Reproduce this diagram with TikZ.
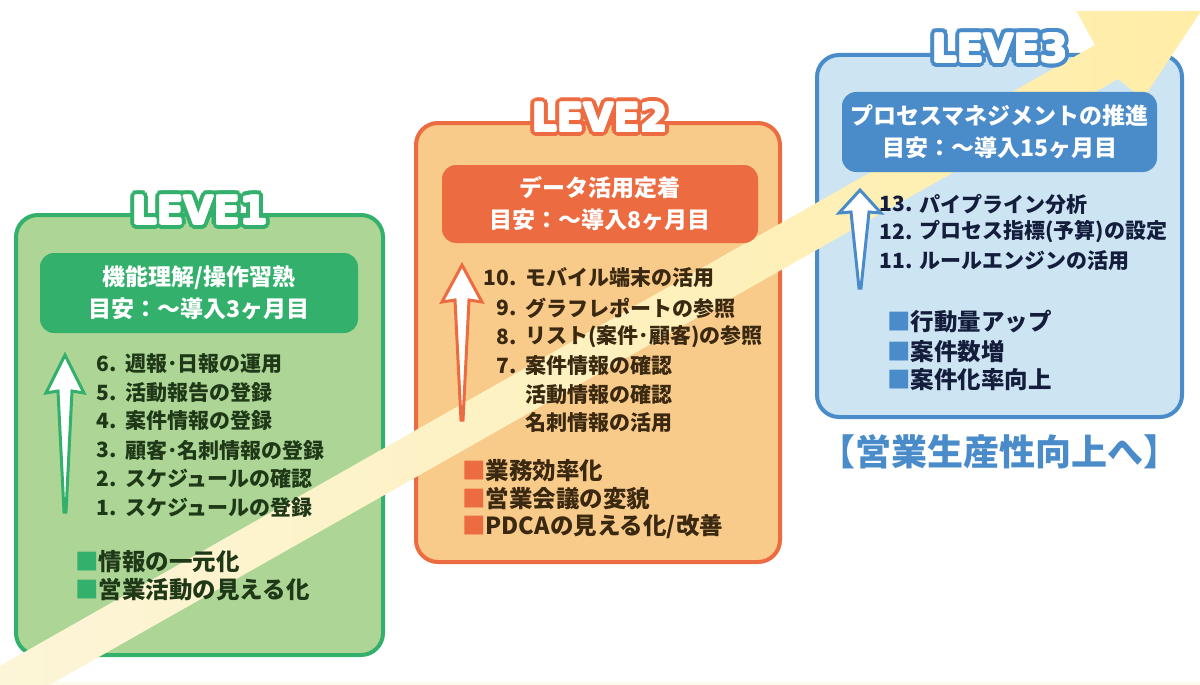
\documentclass[tikz,border=0pt]{standalone}
\usepackage{fontspec}
\usetikzlibrary{calc}
\newfontfamily\jp{Noto Sans CJK JP}
\newfontfamily\lv{DejaVu Sans}
\definecolor{gB}{HTML}{33B06C}
\definecolor{gF}{HTML}{ADD596}
\definecolor{gT}{HTML}{1F3818}
\definecolor{oB}{HTML}{EC6B40}
\definecolor{oF}{HTML}{F8CB8B}
\definecolor{oT}{HTML}{3A2810}
\definecolor{bB}{HTML}{4A8BCA}
\definecolor{bF}{HTML}{CDE4F3}
\definecolor{bT}{HTML}{141E3C}
\definecolor{yL}{HTML}{FCF5D8}
\definecolor{yR}{HTML}{FFEDA6}
\tikzset{
  panel/.style={draw, line width=4pt, rounded corners=22pt, inner sep=0pt},
  head/.style={rounded corners=14pt, text=white, font=\jp\bfseries\fontsize{23}{32}\selectfont, align=center, inner sep=0pt},
  item/.style={anchor=west, inner sep=0pt, font=\jp\bfseries\fontsize{21}{24}\selectfont},
  num/.style={anchor=east, inner sep=0pt, font=\jp\bfseries\fontsize{21}{24}\selectfont},
  res/.style={anchor=west, inner sep=0pt, font=\jp\bfseries\fontsize{23.5}{26}\selectfont},
  lvl/.style={inner sep=0pt, font=\lv\bfseries\fontsize{39}{40}\selectfont},
  uparrow/.style={fill=white, line width=3pt, line join=miter},
}
\newcommand\leveltitle[4]{%
  \foreach \a [count=\i] in {0,20,...,340}{\node[lvl, text=#3] (#1o\i) at ($(#2)+(\a:5pt)$) {#4};}
  \foreach \a [count=\i] in {0,45,...,315}{\node[lvl, text=white] (#1w\i) at ($(#2)+(\a:0.9pt)$) {#4};}
  \node[lvl, text=white] (#1) at (#2) {#4};}
\begin{document}
\begin{tikzpicture}[x=1pt,y=-1pt]
\useasboundingbox (0,0) rectangle (1200,685);
\fill[white] (0,0) rectangle (1200,685);
\fill[yL!50] (0,682) rectangle (1200,685);
% panels
\node[panel, draw=gB, fill=gF, minimum width=367pt, minimum height=440pt] (p1) at (199.5,435) {};
\node[panel, draw=oB, fill=oF, minimum width=364pt, minimum height=439pt] (p2) at (598,342.5) {};
\node[panel, draw=bB, fill=bF, minimum width=365pt, minimum height=362pt] (p3) at (999.5,236) {};
% big rising band
\begin{scope}
\clip (0,12) rectangle (1200,685);
\shade[left color=yL, right color=yR] (-20,677.3) -- (1095,45) -- (1066,-8) -- (1228,-30) -- (1143,99) -- (1118,79) -- (-20,724.3) -- cycle;
\end{scope}
% headers
\node[head, fill=gB, minimum width=318pt, minimum height=80pt] (h1) at (199,293) {機能理解/操作習熟\\目安：～導入3ヶ月目};
\node[head, fill=oB, minimum width=316pt, minimum height=78pt] (h2) at (600,204) {データ活用定着\\目安：～導入8ヶ月目};
\node[head, fill=bB, minimum width=315pt, minimum height=80pt] (h3) at (999.5,132) {プロセスマネジメントの推進\\目安：～導入15ヶ月目};
% titles
\coordinate (c1) at (200,210);
\coordinate (c2) at (600,117);
\coordinate (c3) at (1000,48);
\leveltitle{t1}{c1}{gB}{LEVE1}
\leveltitle{t2}{c2}{oB}{LEVE2}
\leveltitle{t3}{c3}{bB}{LEVE3}
% up arrows
\draw[uparrow, draw=gB] (65,355) -- (84,393) -- (72,391) -- (66,512) -- (64,512) -- (58,391) -- (46,393) -- cycle;
\draw[uparrow, draw=oB] (462,265) -- (482,302) -- (469,300) -- (463,420) -- (461,420) -- (455,300) -- (442,302) -- cycle;
\draw[uparrow, draw=bB] (860,190) -- (881,213) -- (869,212) -- (861,288) -- (859,288) -- (851,212) -- (839,213) -- cycle;
% level 1 list
\begin{scope}[every node/.append style={text=gT}]
\node[num] (n6) at (117,364) {6.}; \node[item] (i6) at (125,364) {週報･日報の運用};
\node[num] (n5) at (117,393) {5.}; \node[item] (i5) at (125,393) {活動報告の登録};
\node[num] (n4) at (117,421) {4.}; \node[item] (i4) at (125,421) {案件情報の登録};
\node[num] (n3) at (117,450) {3.}; \node[item] (i3) at (125,450) {顧客･名刺情報の登録};
\node[num] (n2) at (117,479) {2.}; \node[item] (i2) at (125,479) {スケジュールの確認};
\node[num] (n1) at (117,508) {1.}; \node[item] (i1) at (125,508) {スケジュールの登録};
\node[res] (r11) at (75,562) {{\color{gB}■}情報の一元化};
\node[res] (r12) at (75,590) {{\color{gB}■}営業活動の見える化};
\end{scope}
% level 2 list
\begin{scope}[every node/.append style={text=oT}]
\node[num] (n10) at (517,278) {10.}; \node[item] (i10) at (525,278) {モバイル端末の活用};
\node[num] (n9) at (517,308) {9.}; \node[item] (i9) at (525,308) {グラフレポートの参照};
\node[num] (n8) at (517,337) {8.}; \node[item] (i8) at (525,337) {リスト(案件･顧客)の参照};
\node[num] (n7) at (517,366) {7.}; \node[item] (i7) at (525,366) {案件情報の確認};
\node[item] (i7b) at (525,395) {活動情報の確認};
\node[item] (i7c) at (525,423) {名刺情報の活用};
\node[res] (r21) at (462,471) {{\color{oB}■}業務効率化};
\node[res] (r22) at (462,499) {{\color{oB}■}営業会議の変貌};
\node[res] (r23) at (462,527) {{\color{oB}■}PDCAの見える化/改善};
\end{scope}
% level 3 list
\begin{scope}[every node/.append style={text=bT}]
\node[num] (n13) at (913,204) {13.}; \node[item] (i13) at (919,204) {パイプライン分析};
\node[num] (n12) at (913,232) {12.}; \node[item] (i12) at (919,232) {プロセス指標(予算)の設定};
\node[num] (n11) at (913,261) {11.}; \node[item] (i11) at (919,261) {ルールエンジンの活用};
\node[res] (r31) at (887,322) {{\color{bB}■}行動量アップ};
\node[res] (r32) at (887,352) {{\color{bB}■}案件数増};
\node[res] (r33) at (887,380) {{\color{bB}■}案件化率向上};
\end{scope}
\node[inner sep=0pt, text=bB, font=\jp\bfseries\fontsize{36}{38}\selectfont] (goal) at (999,452) {【営業生産性向上へ】};
\end{tikzpicture}
\end{document}
